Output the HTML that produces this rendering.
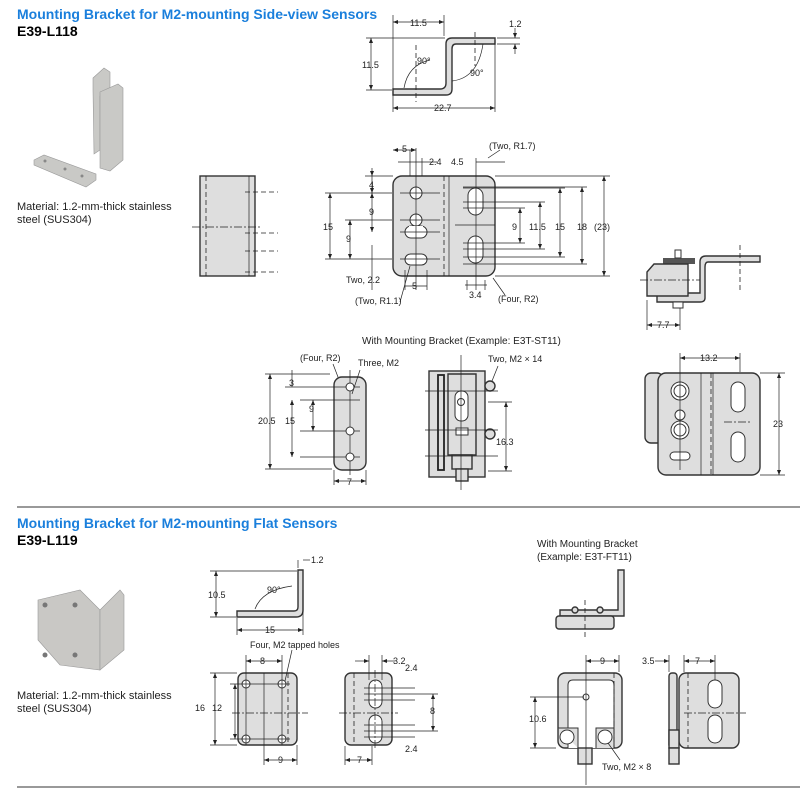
<!DOCTYPE html>
<html><head><meta charset="utf-8"><style>
html,body{margin:0;padding:0;background:#fff;}
svg{display:block;font-family:"Liberation Sans",sans-serif;}
.t{font-size:9px;fill:#222;}
.o{fill:#dedede;stroke:#333;stroke-width:1.4;}
.l{stroke:#222;stroke-width:0.7;fill:none;}
.d{stroke:#222;stroke-width:0.8;fill:none;stroke-dasharray:5,3;}
.c{stroke:#222;stroke-width:0.7;fill:none;stroke-dasharray:8,2,2,2;}
.h{fill:#fff;stroke:#333;stroke-width:1;}
</style></head><body>
<svg width="800" height="789" viewBox="0 0 800 789" xmlns="http://www.w3.org/2000/svg">
<defs>
<marker id="a" markerWidth="6" markerHeight="6" refX="5" refY="3" orient="auto-start-reverse" markerUnits="userSpaceOnUse"><path d="M0,1 L5,3 L0,5z" fill="#222"/></marker>
</defs>
<!-- Titles -->
<text x="17" y="19" font-size="14" font-weight="bold" fill="#1a7fdc">Mounting Bracket for M2-mounting Side-view Sensors</text>
<text x="17" y="36" font-size="14" font-weight="bold" fill="#000">E39-L118</text>
<text x="17" y="210" font-size="11" fill="#222">Material: 1.2-mm-thick stainless</text>
<text x="17" y="223" font-size="11" fill="#222">steel (SUS304)</text>

<!-- photo 1 -->
<g fill="#c9c9c6" stroke="#999" stroke-width="0.6">
<polygon points="93,78 104,68 110,72 110,90 100,96 100,150 94,154 93,90"/>
<polygon points="100,92 118,84 123,88 123,160 110,171 100,168"/>
<polygon points="34,160 44,155 96,174 96,180 86,187 34,165"/>
</g>
<g fill="#888"><circle cx="45" cy="161" r="1.5"/><circle cx="65" cy="169" r="1.5"/><circle cx="82" cy="176" r="1.5"/></g>

<!-- top bracket profile -->
<path class="o" stroke-width="1" d="M393,89 L440,89 Q446,89 446,83 L446,44 Q446,38 452,38 L495,38 L495,44 L456,44 Q452,44 452,49 L452,89 Q452,95 446,95 L393,95z"/>
<line class="l" x1="393" y1="15" x2="393" y2="112"/><line class="l" x1="444" y1="15" x2="444" y2="36"/>
<line class="l" x1="393" y1="22" x2="444" y2="22" marker-start="url(#a)" marker-end="url(#a)"/>
<text class="t" x="410" y="26">11.5</text>
<line class="l" x1="366" y1="38" x2="445" y2="38"/><line class="l" x1="366" y1="90" x2="392" y2="90"/>
<line class="l" x1="371" y1="38" x2="371" y2="90" marker-start="url(#a)" marker-end="url(#a)"/>
<text class="t" x="362" y="68">11.5</text>
<line class="l" x1="495" y1="40" x2="495" y2="112"/>
<line class="l" x1="393" y1="108" x2="495" y2="108" marker-start="url(#a)" marker-end="url(#a)"/>
<text class="t" x="434" y="111">22.7</text>
<line class="l" x1="497" y1="38" x2="520" y2="38"/><line class="l" x1="497" y1="44" x2="520" y2="44"/>
<line class="l" x1="515" y1="28" x2="515" y2="38" marker-end="url(#a)"/><line class="l" x1="515" y1="54" x2="515" y2="44" marker-end="url(#a)"/>
<text class="t" x="509" y="27">1.2</text>
<text class="t" x="417" y="64">90°</text><text class="t" x="470" y="76">90°</text>
<path class="l" d="M404,88 Q408,65 430,60"/><path class="l" d="M452,81 Q478,78 483,44"/>
<line class="d" x1="416" y1="45" x2="416" y2="102"/><line class="d" x1="475" y1="32" x2="475" y2="66"/>

<!-- left rect view -->
<rect x="200" y="176" width="55" height="100" class="o" stroke-width="2"/>
<line class="d" x1="206" y1="176" x2="206" y2="276"/><line class="l" x1="249" y1="176" x2="249" y2="276"/>
<g class="d"><line x1="245" y1="192" x2="278" y2="192"/><line x1="245" y1="233" x2="278" y2="233"/><line x1="245" y1="251" x2="278" y2="251"/><line x1="245" y1="272" x2="278" y2="272"/></g>
<line class="c" x1="192" y1="227" x2="262" y2="227"/>

<!-- main plate -->
<rect x="393" y="176" width="102" height="100" rx="9" class="o"/>
<line class="l" x1="449" y1="176" x2="449" y2="276"/><line class="d" x1="444" y1="176" x2="444" y2="276"/>
<circle cx="416" cy="193" r="6" class="h"/>
<rect x="405" y="226" width="22" height="12" rx="6" class="h"/>
<circle cx="416" cy="220" r="6" class="h"/>
<rect x="409" y="226" width="14" height="6" fill="#fff"/>
<rect x="405" y="254" width="22" height="11" rx="5.5" class="h"/>
<rect x="468" y="188" width="15" height="27" rx="7.5" class="h"/>
<rect x="468" y="236" width="15" height="27" rx="7.5" class="h"/>
<g class="l">
<line x1="416" y1="148" x2="416" y2="290"/><line x1="422" y1="158" x2="422" y2="176"/><line x1="410" y1="150" x2="410" y2="176"/>
<line x1="476" y1="158" x2="476" y2="290"/>
<line x1="400" y1="193" x2="440" y2="193"/><line x1="400" y1="220" x2="440" y2="220"/><line x1="400" y1="232" x2="440" y2="232"/><line x1="400" y1="259" x2="440" y2="259"/>
<line x1="463" y1="202" x2="545" y2="202"/><line x1="463" y1="208" x2="525" y2="208"/>
<line x1="463" y1="243" x2="525" y2="243"/><line x1="463" y1="249" x2="545" y2="249"/>
<line x1="463" y1="188" x2="565" y2="188"/><line x1="463" y1="257" x2="565" y2="257"/>
<line x1="463" y1="187" x2="587" y2="187"/><line x1="463" y1="264" x2="587" y2="264"/>
<line x1="455" y1="225" x2="495" y2="225"/>
<line x1="495" y1="176" x2="610" y2="176"/><line x1="495" y1="276" x2="610" y2="276"/>
<line x1="325" y1="193" x2="392" y2="193"/><line x1="325" y1="259" x2="392" y2="259"/><line x1="345" y1="220" x2="392" y2="220"/>
<line x1="365" y1="176" x2="393" y2="176"/>
</g>
<g class="l">
<line x1="330" y1="193" x2="330" y2="259" marker-start="url(#a)" marker-end="url(#a)"/>
<line x1="350" y1="220" x2="350" y2="259" marker-start="url(#a)" marker-end="url(#a)"/>
<line x1="372" y1="168" x2="372" y2="176" marker-end="url(#a)"/><line x1="372" y1="176" x2="372" y2="193" marker-end="url(#a)"/>
<line x1="372" y1="193" x2="372" y2="232" marker-start="url(#a)" marker-end="url(#a)"/>
<line x1="520" y1="208" x2="520" y2="243" marker-start="url(#a)" marker-end="url(#a)"/>
<line x1="540" y1="202" x2="540" y2="249" marker-start="url(#a)" marker-end="url(#a)"/>
<line x1="560" y1="188" x2="560" y2="257" marker-start="url(#a)" marker-end="url(#a)"/>
<line x1="582" y1="187" x2="582" y2="264" marker-start="url(#a)" marker-end="url(#a)"/>
<line x1="604" y1="176" x2="604" y2="276" marker-start="url(#a)" marker-end="url(#a)"/>
<line x1="393" y1="150" x2="416" y2="150" marker-start="url(#a)" marker-end="url(#a)"/>
<line x1="398" y1="162" x2="437" y2="162"/>
<line x1="476" y1="162" x2="505" y2="162"/>
<line x1="405" y1="286" x2="427" y2="286"/><line x1="405" y1="270" x2="405" y2="290"/><line x1="427" y1="270" x2="427" y2="290"/>
<line x1="465" y1="285" x2="487" y2="285"/><line x1="467" y1="280" x2="467" y2="290"/><line x1="485" y1="280" x2="485" y2="290"/>
<line x1="372" y1="245" x2="372" y2="290"/>
<line x1="410" y1="266" x2="400" y2="302"/><line x1="488" y1="158" x2="500" y2="150"/><line x1="493" y1="278" x2="505" y2="295"/>
</g>
<text class="t" x="402" y="152">5</text><text class="t" x="429" y="165">2.4</text><text class="t" x="451" y="165">4.5</text>
<text class="t" x="489" y="149">(Two, R1.7)</text>
<text class="t" x="369" y="188">4</text><text class="t" x="369" y="215">9</text>
<text class="t" x="323" y="230">15</text><text class="t" x="346" y="242">9</text>
<text class="t" x="512" y="230">9</text><text class="t" x="529" y="230">11.5</text><text class="t" x="555" y="230">15</text><text class="t" x="577" y="230">18</text><text class="t" x="594" y="230">(23)</text>
<text class="t" x="346" y="283">Two, 2.2</text><text class="t" x="412" y="289">5</text>
<text class="t" x="355" y="304">(Two, R1.1)</text><text class="t" x="469" y="298">3.4</text><text class="t" x="498" y="302">(Four, R2)</text>

<!-- right side small view -->
<path class="o" stroke-width="1" d="M657,293 L700,293 L700,262 Q700,256 706,256 L760,256 L760,262 L708,262 Q705,262 705,267 L705,298 Q705,302 700,302 L657,302z"/>
<rect x="663" y="258" width="32" height="6" fill="#555"/>
<rect x="675" y="250" width="6" height="8" class="h"/>
<path class="o" d="M647,272 L654,264 L688,264 L688,296 L647,296z" stroke-width="1"/>
<rect x="673" y="302" width="10" height="6" class="h"/>
<line class="c" x1="640" y1="280" x2="700" y2="280"/>
<line class="d" x1="740" y1="245" x2="740" y2="290"/>
<line class="l" x1="647" y1="300" x2="647" y2="330"/><line class="l" x1="680" y1="308" x2="680" y2="330"/>
<line class="l" x1="647" y1="325" x2="680" y2="325" marker-start="url(#a)" marker-end="url(#a)"/>
<text class="t" x="657" y="328">7.7</text>

<text x="362" y="344" font-size="10" fill="#222">With Mounting Bracket (Example: E3T-ST11)</text>

<!-- small plate -->
<rect x="334" y="377" width="32" height="93" rx="8" class="o"/>
<g class="l"><line x1="350" y1="370" x2="350" y2="475"/>
<line x1="285" y1="387" x2="360" y2="387"/><line x1="300" y1="400" x2="360" y2="400"/><line x1="300" y1="431" x2="360" y2="431"/><line x1="300" y1="457" x2="360" y2="457"/>
<line x1="265" y1="374" x2="330" y2="374"/><line x1="265" y1="469" x2="332" y2="469"/>
<line x1="270" y1="374" x2="270" y2="469" marker-start="url(#a)" marker-end="url(#a)"/>
<line x1="292" y1="400" x2="292" y2="457" marker-start="url(#a)" marker-end="url(#a)"/>
<line x1="313" y1="400" x2="313" y2="431" marker-start="url(#a)" marker-end="url(#a)"/>
<line x1="292" y1="370" x2="292" y2="387"/>
<line x1="334" y1="470" x2="334" y2="485"/><line x1="366" y1="470" x2="366" y2="485"/>
<line x1="334" y1="481" x2="366" y2="481" marker-start="url(#a)" marker-end="url(#a)"/>
<line x1="338" y1="377" x2="333" y2="364"/><line x1="352" y1="394" x2="360" y2="370"/>
</g>
<circle cx="350" cy="387" r="4" class="h"/><circle cx="350" cy="431" r="4" class="h"/><circle cx="350" cy="457" r="4" class="h"/>
<text class="t" x="300" y="361">(Four, R2)</text><text class="t" x="358" y="366">Three, M2</text>
<text class="t" x="289" y="386">3</text><text class="t" x="258" y="424">20.5</text><text class="t" x="285" y="424">15</text><text class="t" x="309" y="412">9</text><text class="t" x="347" y="485">7</text>

<!-- middle sensor -->
<rect x="429" y="371" width="56" height="106" class="o" stroke-width="2"/>
<rect x="438" y="375" width="6" height="95" fill="#dedede" stroke="#222" stroke-width="1.8"/>
<path class="o" stroke-width="1" d="M448,374 L476,374 L476,455 L448,455z"/>
<rect x="455" y="391" width="13" height="30" rx="6" class="h"/>
<circle cx="461" cy="402" r="3.5" class="h"/>
<rect x="456" y="428" width="12" height="7" class="h"/>
<rect x="452" y="455" width="20" height="14" class="o" stroke-width="1"/>
<rect x="456" y="469" width="12" height="12" class="o" stroke-width="1"/>
<circle cx="490" cy="386" r="5" class="o" stroke-width="1"/><circle cx="490" cy="434" r="5" class="o" stroke-width="1"/>
<g class="l"><line x1="461" y1="355" x2="461" y2="490"/><line x1="425" y1="391" x2="498" y2="391"/><line x1="425" y1="430" x2="498" y2="430"/><line x1="425" y1="456" x2="498" y2="456"/>
<line x1="488" y1="402" x2="512" y2="402"/><line x1="488" y1="471" x2="512" y2="471"/>
<line x1="506" y1="402" x2="506" y2="471" marker-start="url(#a)" marker-end="url(#a)"/><line x1="492" y1="381" x2="498" y2="366"/></g>
<text class="t" x="496" y="445">16.3</text><text class="t" x="488" y="362">Two, M2 × 14</text>

<!-- right sensor -->
<rect x="645" y="373" width="18" height="70" rx="6" class="o" stroke-width="1"/>
<rect x="658" y="373" width="102" height="102" rx="8" class="o"/>
<line class="l" x1="701" y1="373" x2="701" y2="475"/><line class="d" x1="711" y1="373" x2="711" y2="475"/><line class="l" x1="713" y1="373" x2="713" y2="475"/>
<circle cx="680" cy="391" r="9" class="h"/><circle cx="680" cy="391" r="6" class="h"/>
<circle cx="680" cy="415" r="5" class="h"/>
<circle cx="680" cy="430" r="9" class="h"/><circle cx="680" cy="430" r="6" class="h"/>
<rect x="670" y="452" width="20" height="8" rx="4" class="h"/>
<rect x="731" y="382" width="14" height="30" rx="7" class="h"/><rect x="731" y="432" width="14" height="30" rx="7" class="h"/>
<g class="l"><line x1="680" y1="353" x2="680" y2="470"/><line x1="740" y1="353" x2="740" y2="372"/>
<line x1="680" y1="358" x2="740" y2="358" marker-start="url(#a)" marker-end="url(#a)"/>
<line x1="760" y1="373" x2="785" y2="373"/><line x1="760" y1="475" x2="785" y2="475"/>
<line x1="779" y1="373" x2="779" y2="475" marker-start="url(#a)" marker-end="url(#a)"/></g>
<line class="c" x1="724" y1="422" x2="752" y2="422"/>
<text class="t" x="700" y="361">13.2</text><text class="t" x="773" y="427">23</text>

<line x1="17" y1="507" x2="800" y2="507" stroke="#333" stroke-width="1"/>

<!-- section 2 -->
<text x="17" y="528" font-size="14" font-weight="bold" fill="#1a7fdc">Mounting Bracket for M2-mounting Flat Sensors</text>
<text x="17" y="545" font-size="14" font-weight="bold" fill="#000">E39-L119</text>
<text x="17" y="699" font-size="11" fill="#222">Material: 1.2-mm-thick stainless</text>
<text x="17" y="712" font-size="11" fill="#222">steel (SUS304)</text>
<g fill="#c9c8c5" stroke="#999" stroke-width="0.6">
<polygon points="38,600 80,590 100,610 100,670 60,665 38,640"/>
<polygon points="100,610 120,590 124,595 124,650 100,670"/>
</g>
<g fill="#777"><circle cx="45" cy="605" r="2.5"/><circle cx="75" cy="605" r="2.5"/><circle cx="45" cy="655" r="2.5"/><circle cx="75" cy="655" r="2.5"/></g>

<!-- L bracket 2 -->
<path class="o" stroke-width="1" d="M237,611 L294,611 Q298,611 298,607 L298,570 L303,570 L303,610 Q303,617 296,617 L237,617z"/>
<g class="l"><line x1="210" y1="571" x2="297" y2="571"/><line x1="210" y1="617" x2="236" y2="617"/>
<line x1="216" y1="571" x2="216" y2="617" marker-start="url(#a)" marker-end="url(#a)"/>
<line x1="237" y1="618" x2="237" y2="635"/><line x1="303" y1="590" x2="303" y2="635"/>
<line x1="237" y1="630" x2="303" y2="630" marker-start="url(#a)" marker-end="url(#a)"/>
<line x1="298" y1="560" x2="298" y2="568"/><line x1="303" y1="560" x2="310" y2="560"/>
<path d="M255,609 Q262,590 292,586"/></g>
<text class="t" x="208" y="598">10.5</text><text class="t" x="267" y="593">90°</text><text class="t" x="265" y="633">15</text><text class="t" x="311" y="563">1.2</text>

<!-- plate 2 -->
<rect x="238" y="673" width="59" height="72" rx="6" class="o"/>
<line class="d" x1="288" y1="673" x2="288" y2="745"/>
<circle cx="246" cy="684" r="4" class="h"/><circle cx="282" cy="684" r="4" class="h"/><circle cx="246" cy="739" r="4" class="h"/><circle cx="282" cy="739" r="4" class="h"/>
<g class="l"><line x1="246" y1="655" x2="246" y2="745"/><line x1="282" y1="655" x2="282" y2="745"/>
<line x1="246" y1="661" x2="282" y2="661" marker-start="url(#a)" marker-end="url(#a)"/>
<line x1="210" y1="673" x2="237" y2="673"/><line x1="210" y1="745" x2="237" y2="745"/>
<line x1="215" y1="673" x2="215" y2="745" marker-start="url(#a)" marker-end="url(#a)"/>
<line x1="230" y1="684" x2="290" y2="684"/><line x1="230" y1="739" x2="290" y2="739"/>
<line x1="235" y1="684" x2="235" y2="739" marker-start="url(#a)" marker-end="url(#a)"/>
<line x1="264" y1="673" x2="264" y2="765"/><line x1="297" y1="745" x2="297" y2="765"/>
<line x1="264" y1="760" x2="297" y2="760" marker-start="url(#a)" marker-end="url(#a)"/>
<line x1="285" y1="681" x2="292" y2="650"/></g>
<line class="c" x1="232" y1="713" x2="308" y2="713"/>
<text class="t" x="250" y="648">Four, M2 tapped holes</text>
<text class="t" x="260" y="664">8</text><text class="t" x="195" y="711">16</text><text class="t" x="212" y="711">12</text><text class="t" x="278" y="763">9</text>

<!-- plate 3 -->
<rect x="345" y="673" width="47" height="72" rx="6" class="o"/>
<line class="d" x1="354" y1="673" x2="354" y2="745"/>
<rect x="369" y="680" width="13" height="28" rx="6.5" class="h"/><rect x="369" y="715" width="13" height="28" rx="6.5" class="h"/>
<g class="l"><line x1="369" y1="655" x2="369" y2="680"/><line x1="382" y1="655" x2="382" y2="680"/>
<line x1="355" y1="661" x2="369" y2="661" marker-end="url(#a)"/><line x1="395" y1="661" x2="382" y2="661" marker-end="url(#a)"/>
<line x1="364" y1="688" x2="415" y2="688"/><line x1="364" y1="694" x2="438" y2="694"/><line x1="364" y1="700" x2="415" y2="700"/>
<line x1="364" y1="725" x2="415" y2="725"/><line x1="364" y1="731" x2="438" y2="731"/><line x1="364" y1="737" x2="415" y2="737"/>
<line x1="433" y1="694" x2="433" y2="731" marker-start="url(#a)" marker-end="url(#a)"/>
<line x1="345" y1="746" x2="345" y2="765"/><line x1="372" y1="746" x2="372" y2="765"/>
<line x1="345" y1="760" x2="372" y2="760" marker-start="url(#a)" marker-end="url(#a)"/></g>
<line class="c" x1="339" y1="713" x2="398" y2="713"/><line class="c" x1="375" y1="670" x2="375" y2="750"/>
<text class="t" x="393" y="664">3.2</text><text class="t" x="405" y="671">2.4</text><text class="t" x="430" y="714">8</text><text class="t" x="405" y="752">2.4</text><text class="t" x="357" y="763">7</text>

<!-- FT example -->
<text x="537" y="547" font-size="10" fill="#222">With Mounting Bracket</text>
<text x="537" y="560" font-size="10" fill="#222">(Example: E3T-FT11)</text>
<path class="o" stroke-width="1" d="M560,610 L618,610 L618,570 L624,570 L624,616 L560,616z"/>
<rect x="556" y="616" width="58" height="13" rx="3" class="o" stroke-width="1"/>
<circle cx="575" cy="610" r="3" class="o" stroke-width="1"/><circle cx="600" cy="610" r="3" class="o" stroke-width="1"/>
<line class="d" x1="585" y1="600" x2="585" y2="640"/>

<rect x="558" y="673" width="64" height="75" rx="7" class="o"/>
<path class="h" d="M568,748 L568,685 Q568,680 573,680 L609,680 Q614,680 614,685 L614,748" fill="#e8e8e8"/>
<path d="M558,728 L578,728 L578,748" fill="#dedede" stroke="#333"/><path d="M596,748 L596,728 L614,728 L614,748" fill="#dedede" stroke="#333"/>
<circle cx="567" cy="737" r="7" class="h"/><circle cx="605" cy="737" r="7" class="h"/>
<circle cx="586" cy="697" r="3" class="h"/>
<rect x="578" y="748" width="14" height="16" class="o" stroke-width="1"/>
<line class="d" x1="614" y1="673" x2="614" y2="748"/>
<g class="l"><line x1="586" y1="655" x2="586" y2="785"/><line x1="619" y1="655" x2="619" y2="672"/>
<line x1="586" y1="661" x2="619" y2="661" marker-start="url(#a)" marker-end="url(#a)"/>
<line x1="530" y1="697" x2="584" y2="697"/><line x1="530" y1="748" x2="556" y2="748"/>
<line x1="535" y1="697" x2="535" y2="748" marker-start="url(#a)" marker-end="url(#a)"/>
<line x1="608" y1="743" x2="620" y2="760"/></g>
<text class="t" x="600" y="664">9</text><text class="t" x="529" y="722">10.6</text><text class="t" x="602" y="770">Two, M2 × 8</text>

<rect x="669" y="673" width="8" height="75" rx="3" class="o" stroke-width="1"/>
<rect x="679" y="673" width="60" height="75" rx="7" class="o"/>
<rect x="669" y="730" width="10" height="18" class="o" stroke-width="1"/>
<rect x="669" y="748" width="10" height="16" class="o" stroke-width="1"/>
<line class="d" x1="688" y1="673" x2="688" y2="748"/>
<rect x="708" y="680" width="14" height="28" rx="7" class="h"/><rect x="708" y="715" width="14" height="28" rx="7" class="h"/>
<line class="c" x1="684" y1="713" x2="746" y2="713"/>
<g class="l"><line x1="669" y1="655" x2="669" y2="672"/><line x1="684" y1="655" x2="684" y2="672"/><line x1="715" y1="655" x2="715" y2="680"/>
<line x1="655" y1="661" x2="669" y2="661" marker-end="url(#a)"/><line x1="684" y1="661" x2="715" y2="661" marker-start="url(#a)" marker-end="url(#a)"/></g>
<text class="t" x="642" y="664">3.5</text><text class="t" x="695" y="664">7</text>

<line x1="17" y1="787" x2="800" y2="787" stroke="#333" stroke-width="1"/>
</svg>
</body></html>
